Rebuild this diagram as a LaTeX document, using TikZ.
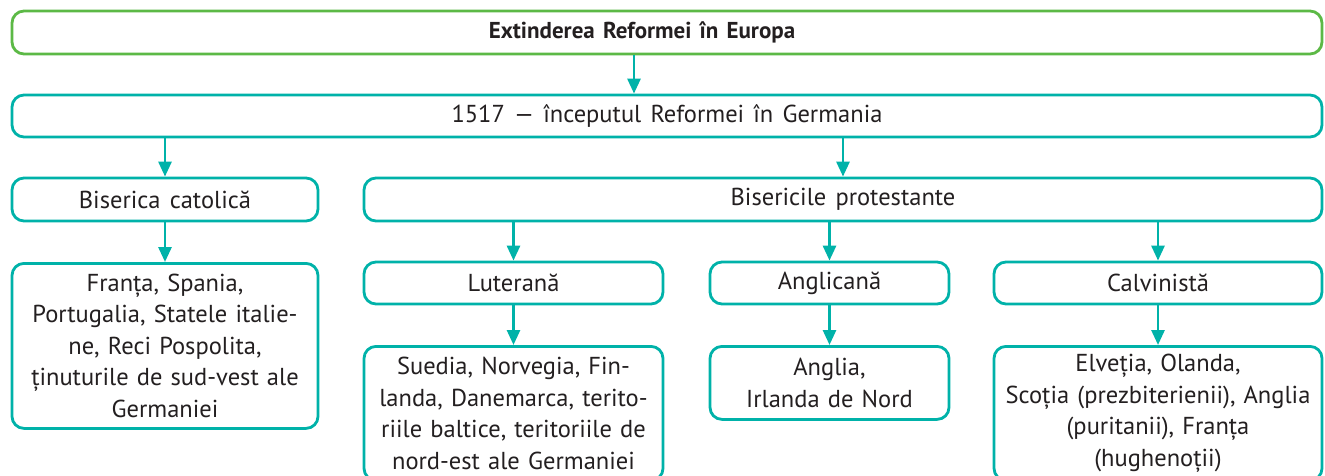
\documentclass[tikz,border=0pt]{standalone}
\usepackage{fontspec}
\setmainfont{PT Sans}[WordSpace=1.4]
\usetikzlibrary{arrows.meta}
\definecolor{turq}{RGB}{0,178,169}
\definecolor{leaf}{RGB}{92,185,70}
\definecolor{ink}{RGB}{35,31,32}
\tikzstyle{box}=[rectangle, rounded corners=12pt, draw=turq, line width=2.8pt, fill=white, text=ink, inner sep=3pt, minimum height=43pt, font=\fontsize{24.5pt}{31.5pt}\selectfont]
\tikzstyle{head}=[box, draw=leaf, font=\fontsize{23pt}{31pt}\selectfont\bfseries]
\tikzstyle{list}=[box, align=center, anchor=north]
\tikzstyle{edge}=[draw=turq, line width=2.8pt, -{Triangle[length=15pt,width=13pt]}]

\begin{document}
\begin{tikzpicture}[x=1pt, y=-1pt]
				\useasboundingbox (0,0) rectangle (1325,475);
				\clip (0,0) rectangle (1325,475);
				
				%The title and the start
				\draw (667,32.5) node[head, minimum width=1310pt] (title) {\hspace*{-50pt}Extinderea Reformei în Europa};
				\draw (667,116) node[box, minimum width=1310pt, minimum height=42pt] (start) {1517 — începutul Reformei în Germania};
				
				%The two churches
				\draw (165,199.5) node[box, minimum width=306pt] (cat) {Biserica catolică};
				\draw (843,199.5) node[box, minimum width=958pt] (prot) {Bisericile protestante};
				
				%The protestant branches
				\draw (513.5,283) node[box, minimum width=299pt, minimum height=42pt] (lut) {Luterană};
				\draw (829.5,283) node[box, minimum width=239pt, minimum height=42pt] (angl) {Anglicană};
				\draw (1158,283) node[box, minimum width=328pt, minimum height=42pt] (calv) {Calvinistă};
				
				%The countries
				\draw (165,262) node[list, text width=300pt, minimum height=165pt] (cat-c) {Franța, Spania,\\Portugalia, Statele italie-\\ne, Reci Pospolita,\\ținuturile de sud-vest ale\\Germaniei};
				\draw (513.5,345) node[list, text width=293pt, minimum height=134pt] (lut-c) {Suedia, Norvegia, Fin-\\landa, Danemarca, terito-\\riile baltice, teritoriile de\\nord-est ale Germaniei};
				\draw (829.5,345) node[list, text width=233pt, minimum height=73pt] (angl-c) {Anglia,\\Irlanda de Nord};
				\draw (1158,345) node[list, text width=322pt, minimum height=134pt] (calv-c) {Elveția, Olanda,\\Scoția (prezbiterienii), Anglia\\(puritanii), Franța\\(hughenoții)};
				
				\draw[edge] ([xshift=-33pt]title.south) -- ([xshift=-33pt]start.north);
				\draw[edge] (start.south -| cat.north) -- (cat.north);
				\draw[edge] (start.south -| prot.north) -- (prot.north);
				\draw[edge] (prot.south -| lut.north) -- (lut.north);
				\draw[edge] (prot.south -| angl.north) -- (angl.north);
				\draw[edge] (prot.south -| calv.north) -- (calv.north);
				\draw[edge] (cat.south) -- (cat-c.north);
				\draw[edge] (lut.south) -- (lut-c.north);
				\draw[edge] (angl.south) -- (angl-c.north);
				\draw[edge] (calv.south) -- (calv-c.north);
			\end{tikzpicture}
\end{document}
